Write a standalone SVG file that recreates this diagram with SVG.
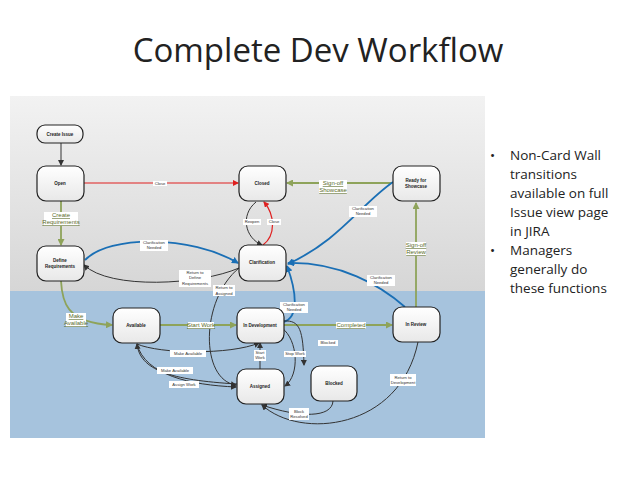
<svg xmlns="http://www.w3.org/2000/svg" width="638" height="479" viewBox="0 0 638 479">
<defs>
<linearGradient id="gt" x1="0" y1="0" x2="0" y2="1"><stop offset="0" stop-color="#f2f2f2"/><stop offset="1" stop-color="#d6d6d6"/></linearGradient>
<linearGradient id="nd" x1="0" y1="0" x2="0" y2="1"><stop offset="0" stop-color="#ffffff"/><stop offset="1" stop-color="#e8e8e8"/></linearGradient>
<marker id="ak" markerWidth="6" markerHeight="6" refX="5" refY="3" orient="auto" markerUnits="userSpaceOnUse"><path d="M0,0 L6,3 L0,6 z" fill="#333"/></marker>
<marker id="ar" markerWidth="6" markerHeight="6" refX="5" refY="3" orient="auto" markerUnits="userSpaceOnUse"><path d="M0,0 L6,3 L0,6 z" fill="#e02020"/></marker>
<marker id="ag" markerWidth="7" markerHeight="7" refX="6" refY="3.5" orient="auto" markerUnits="userSpaceOnUse"><path d="M0,0 L7,3.5 L0,7 z" fill="#8ea35a"/></marker>
<marker id="ab" markerWidth="7" markerHeight="7" refX="6" refY="3.5" orient="auto" markerUnits="userSpaceOnUse"><path d="M0,0 L7,3.5 L0,7 z" fill="#1a6fb5"/></marker>
</defs>
<style>
.n rect{fill:url(#nd);stroke:#222;stroke-width:1.2}
.n text{font-family:"Liberation Sans",sans-serif;font-size:4.5px;font-weight:bold;text-anchor:middle;fill:#222}
.k{stroke:#333;stroke-width:1;fill:none;marker-end:url(#ak)}
.r{stroke:#e02020;stroke-width:1.2;fill:none;marker-end:url(#ar)}
.g{stroke:#8ea35a;stroke-width:1.8;fill:none;marker-end:url(#ag)}
.b{stroke:#1a6fb5;stroke-width:1.8;fill:none;marker-end:url(#ab)}
.l{font-family:"Liberation Sans",sans-serif;font-size:4.2px;text-anchor:middle;fill:#333}
.lb{fill:#fff}
.gl{font-family:"Liberation Sans",sans-serif;font-size:6px;text-anchor:middle;fill:#5a6b2a;text-decoration:underline}
.bt{font-family:"Open Sans",sans-serif;font-size:13.5px;fill:#222}
</style>
<rect width="638" height="479" fill="#fff"/>
<text x="318" y="62" font-family="Open Sans, sans-serif" font-size="33" text-anchor="middle" fill="#222">Complete Dev Workflow</text>
<rect x="10" y="96" width="475" height="195" fill="url(#gt)"/>
<rect x="10" y="291" width="475" height="147" fill="#a6c3dd"/>
<g class="bt">
<text x="490" y="160">•</text><text x="510" y="160">Non-Card Wall</text>
<text x="510" y="179">transitions</text><text x="510" y="198">available on full</text>
<text x="510" y="217">Issue view page</text><text x="510" y="236">in JIRA</text>
<text x="490" y="255">•</text><text x="510" y="255">Managers</text>
<text x="510" y="274">generally do</text><text x="510" y="293">these functions</text>
</g>
<g id="connectors">
<path class="k" d="M61,143 V165"/>
<path class="r" d="M84,183 H238"/>
<path class="g" d="M392,183 H287"/>
<path class="g" d="M61,201 V245"/>
<path class="g" d="M61,281 C62,300 65,323 112,325"/>
<path class="g" d="M160,325 H236"/>
<path class="g" d="M284,325 H392"/>
<path class="g" d="M416,307 V203"/>
<path class="k" d="M256,202 C240,215 245,238 262,245"/>
<path class="r" d="M263,245 C276,235 275,215 264,202"/>
<path class="b" d="M85,260 C110,235 190,235 238,263"/>
<path class="k" d="M239,268 C200,285 110,290 84,265"/>
<path class="k" d="M239,268 C200,300 200,380 236,385"/>
<path class="b" d="M393,182 C360,205 340,240 288,264"/>
<path class="b" d="M405,307 C380,285 340,262 288,263"/>
<path class="b" d="M283,322 C300,318 296,290 287,266"/>
<path class="k" d="M284,321 C300,320 303,330 304,365"/>
<path class="k" d="M282,328 C298,340 300,375 285,386"/>
<path class="k" d="M260,369 V343"/>
<path class="k" d="M237,384 C170,380 140,370 137,344"/>
<path class="k" d="M137,344 C145,375 190,385 236,387"/>
<path class="k" d="M137,344 C160,354 230,355 259,343"/>
<path class="k" d="M333,401 C332,418 300,418 262,405"/>
<path class="k" d="M418,342 C400,430 300,440 262,405"/>
</g>
<g id="labels">
<rect class="lb" x="153" y="181" width="14" height="5"/><text class="l" x="160" y="185">Close</text>
<rect class="lb" x="44" y="212" width="34" height="14"/><text class="gl" x="61" y="217">Create</text><text class="gl" x="61" y="224">Requirements</text>
<rect class="lb" x="66" y="313" width="20" height="14"/><text class="gl" x="76" y="318">Make</text><text class="gl" x="76" y="325">Available</text>
<rect class="lb" x="319" y="180" width="28" height="14"/><text class="gl" x="333" y="185">Sign-off</text><text class="gl" x="333" y="192">Showcase</text>
<rect class="lb" x="406" y="242" width="20" height="14"/><text class="gl" x="416" y="247">Sign-off</text><text class="gl" x="416" y="254">Review</text>
<rect class="lb" x="188" y="322" width="26" height="7"/><text class="gl" x="201" y="327">Start Work</text>
<rect class="lb" x="336" y="322" width="30" height="7"/><text class="gl" x="351" y="327">Completed</text>
<rect class="lb" x="243" y="219" width="18" height="6"/><text class="l" x="252" y="223">Reopen</text>
<rect class="lb" x="267" y="219" width="14" height="6"/><text class="l" x="274" y="223">Close</text>
<rect class="lb" x="140" y="240" width="28" height="11"/><text class="l" x="154" y="244">Clarification</text><text class="l" x="154" y="249">Needed</text>
<rect class="lb" x="349" y="206" width="28" height="11"/><text class="l" x="363" y="210">Clarification</text><text class="l" x="363" y="215">Needed</text>
<rect class="lb" x="367" y="275" width="28" height="11"/><text class="l" x="381" y="279">Clarification</text><text class="l" x="381" y="284">Needed</text>
<rect class="lb" x="280" y="302" width="28" height="11"/><text class="l" x="294" y="306">Clarification</text><text class="l" x="294" y="311">Needed</text>
<rect class="lb" x="179" y="270" width="32" height="17"/><text class="l" x="195" y="274">Return to</text><text class="l" x="195" y="279">Define</text><text class="l" x="195" y="285">Requirements</text>
<rect class="lb" x="213" y="285" width="22" height="11"/><text class="l" x="224" y="289">Return to</text><text class="l" x="224" y="295">Assigned</text>
<rect class="lb" x="318" y="340" width="20" height="6"/><text class="l" x="328" y="344">Blocked</text>
<rect class="lb" x="284" y="351" width="22" height="6"/><text class="l" x="295" y="355">Stop Work</text>
<rect class="lb" x="254" y="350" width="12" height="11"/><text class="l" x="260" y="354">Start</text><text class="l" x="260" y="359">Work</text>
<rect class="lb" x="170" y="350" width="36" height="7"/><text class="l" x="188" y="355" font-size="5.5">Make Available</text>
<rect class="lb" x="157" y="367" width="36" height="7"/><text class="l" x="175" y="372" font-size="5.5">Make Available</text>
<rect class="lb" x="169" y="381" width="30" height="7"/><text class="l" x="184" y="386" font-size="5.5">Assign Work</text>
<rect class="lb" x="289" y="408" width="20" height="12"/><text class="l" x="299" y="413">Block</text><text class="l" x="299" y="418">Resolved</text>
<rect class="lb" x="390" y="374" width="26" height="12"/><text class="l" x="403" y="379">Return to</text><text class="l" x="403" y="384">Development</text>
</g>
<g id="n-create" class="n"><rect x="37" y="125" width="46" height="18" rx="8"/><text x="60" y="136">Create Issue</text></g>
<g id="n-open" class="n"><rect x="37" y="166" width="47" height="35" rx="9"/><text x="60" y="185">Open</text></g>
<g id="n-define" class="n"><rect x="37" y="246" width="47" height="35" rx="9"/><text x="60" y="262">Define</text><text x="60" y="268">Requirements</text></g>
<g id="n-closed" class="n"><rect x="239" y="166" width="47" height="35" rx="9"/><text x="262" y="185">Closed</text></g>
<g id="n-ready" class="n"><rect x="393" y="166" width="47" height="35" rx="9"/><text x="416" y="182">Ready for</text><text x="416" y="188">Showcase</text></g>
<g id="n-clar" class="n"><rect x="239" y="245" width="47" height="36" rx="9"/><text x="262" y="264">Clarification</text></g>
<g id="n-avail" class="n"><rect x="113" y="308" width="47" height="35" rx="9"/><text x="136" y="327">Available</text></g>
<g id="n-indev" class="n"><rect x="237" y="308" width="47" height="35" rx="9"/><text x="260" y="327">In Development</text></g>
<g id="n-review" class="n"><rect x="393" y="307" width="47" height="35" rx="9"/><text x="416" y="326">In Review</text></g>
<g id="n-assigned" class="n"><rect x="237" y="369" width="47" height="35" rx="9"/><text x="260" y="388">Assigned</text></g>
<g id="n-blocked" class="n"><rect x="311" y="366" width="46" height="35" rx="9"/><text x="334" y="385">Blocked</text></g>
</svg>
